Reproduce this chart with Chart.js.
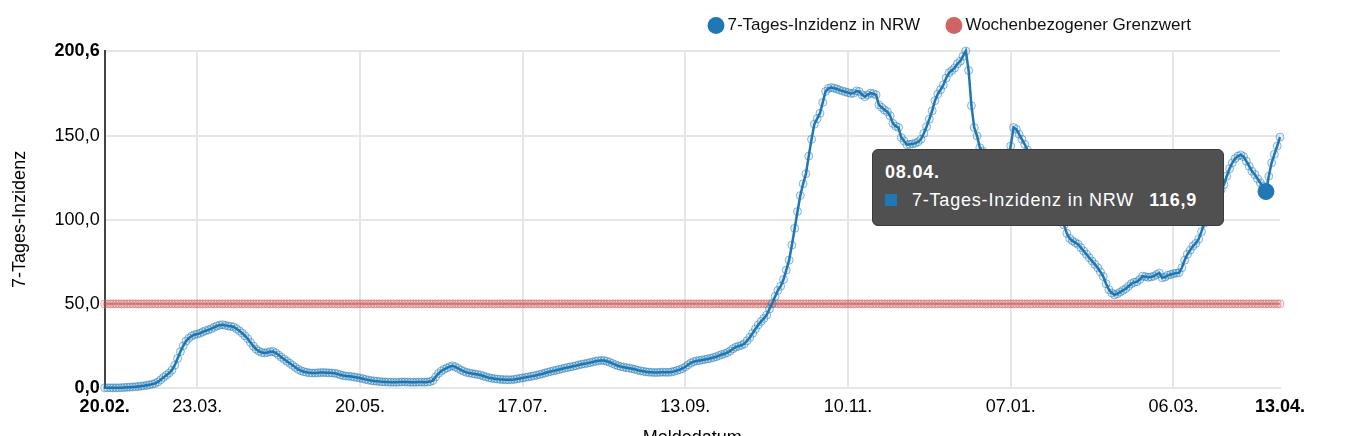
<!DOCTYPE html>
<html lang="de">
<head>
<meta charset="utf-8">
<title>7-Tages-Inzidenz in NRW</title>
<script src="https://cdn.jsdelivr.net/npm/chart.js@4.4.1/dist/chart.umd.min.js"></script>
<style>
  html, body { margin: 0; padding: 0; background: #fff; overflow: hidden; }
  #wrap { position: relative; width: 1353px; height: 453px; }
  #tip {
    position: absolute; opacity: 0; pointer-events: none;
    background: #505050; border: 1px solid #3a3a3a; border-radius: 6px;
    color: #fff; font-family: Arial, "Liberation Sans", Helvetica, sans-serif;
    font-size: 18px; letter-spacing: 0.8px; white-space: nowrap;
    padding: 11px 26px 14px 12px;
  }
  #tip .t { font-weight: bold; line-height: 22px; }
  #tip .b { line-height: 22px; margin-top: 6px; display: flex; align-items: center; }
  #tip .sq { width: 12px; height: 12px; background: #1f77b4; margin-right: 15px; }
  #tip b { margin-left: 15px; }
</style>
</head>
<body>
<div id="wrap">
  <canvas id="chart"></canvas>
  <div id="tip"></div>
</div>
<script>
const FONT = 'Arial, "Liberation Sans", Helvetica, sans-serif';
const BLUE = '#1f77b4';
const RED = '#d06464';

// 7-Tages-Inzidenz, daily from 19.02.2020 to 13.04.2021
const inzidenz = [
  0.0, 0.0, 0.0, 0.0, 0.0, 0.0, 0.1, 0.2, 0.3, 0.4, 0.5,
  0.6, 0.8, 1.0, 1.2, 1.5, 1.8, 2.2, 2.6, 3.5, 4.8,
  6.2, 7.5, 8.8, 10.5, 13.5, 17.5, 21.5, 25.0, 27.8, 29.5,
  30.8, 31.6, 32.0, 32.5, 33.3, 34.0, 34.5, 35.2, 36.0, 36.8,
  37.3, 37.6, 37.2, 36.8, 36.6, 36.2, 35.2, 34.0, 32.6, 31.0,
  29.2, 27.0, 24.8, 23.0, 21.8, 21.0, 20.8, 21.0, 21.5, 21.6,
  20.8, 19.5, 18.2, 17.0, 15.8, 14.6, 13.4, 12.2, 11.0, 10.2,
  9.6, 9.2, 8.9, 8.8, 8.8, 8.9, 9.1, 9.1, 9.0, 8.9,
  8.8, 8.7, 8.3, 7.7, 7.3, 7.0, 6.9, 6.7, 6.4, 6.1,
  5.8, 5.4, 5.0, 4.6, 4.3, 4.1, 3.9, 3.7, 3.6, 3.5,
  3.4, 3.3, 3.3, 3.3, 3.4, 3.5, 3.5, 3.4, 3.3, 3.3,
  3.3, 3.4, 3.4, 3.3, 3.4, 3.7, 4.3, 6.5, 8.5, 10.0,
  11.0, 11.8, 12.6, 13.1, 12.5, 11.6, 10.6, 9.8, 9.2, 8.8,
  8.5, 8.2, 7.9, 7.6, 7.0, 6.5, 6.0, 5.7, 5.4, 5.2,
  5.0, 4.9, 4.8, 4.8, 4.8, 5.0, 5.3, 5.6, 5.9, 6.2,
  6.5, 6.8, 7.1, 7.5, 7.9, 8.3, 8.8, 9.3, 9.7, 10.1,
  10.5, 10.9, 11.3, 11.7, 12.1, 12.4, 12.8, 13.2, 13.6, 14.0,
  14.3, 14.6, 15.0, 15.4, 15.8, 16.1, 16.3, 16.2, 15.8, 15.2,
  14.5, 13.8, 13.1, 12.6, 12.3, 12.0, 11.7, 11.4, 11.0, 10.5,
  10.1, 9.8, 9.5, 9.3, 9.2, 9.1, 9.1, 9.2, 9.3, 9.2,
  9.2, 9.4, 9.8, 10.3, 10.8, 11.5, 12.5, 13.7, 14.8, 15.6,
  16.0, 16.3, 16.6, 16.9, 17.2, 17.6, 18.0, 18.5, 19.2, 19.8,
  20.3, 21.0, 22.0, 23.3, 24.2, 24.8, 25.3, 26.2, 28.0, 30.0,
  32.5, 35.0, 37.5, 39.5, 41.3, 43.3, 47.0, 50.3, 54.4, 58.0,
  60.5, 64.5, 70.1, 76.0, 85.0, 95.0, 105.0, 114.5, 121.5, 127.5,
  138.0, 148.0, 157.0, 160.3, 163.5, 170.0, 176.5, 178.3, 178.8, 178.5,
  178.0, 177.3, 176.8, 176.3, 175.8, 175.3, 175.5, 176.8, 176.5, 174.5,
  173.4, 174.5, 175.5, 175.2, 174.5, 168.5, 167.0, 165.5, 164.5, 162.0,
  157.5, 155.8, 155.0, 149.0, 147.0, 144.8, 145.0, 145.3, 145.7, 146.5,
  148.0, 151.5, 155.5, 160.0, 165.0, 171.0, 175.0, 177.5, 180.4, 184.5,
  187.6, 189.0, 190.5, 193.0, 194.5, 197.5, 200.6, 189.0, 168.0, 155.0,
  150.0, 143.0, 141.0, 138.0, 135.0, 132.0, 129.0, 126.0, 123.0, 121.0,
  125.0, 134.0, 144.0, 155.0, 154.0, 151.0, 148.0, 145.0, 141.5, 138.0,
  134.5, 131.0, 128.0, 125.0, 121.5, 118.0, 114.5, 111.0, 107.5, 104.0,
  100.5, 97.0, 92.0, 89.0, 87.5, 86.5, 85.5, 83.5, 81.5, 79.5,
  77.5, 75.5, 73.5, 71.5, 69.0, 66.3, 62.0, 58.5, 56.5, 55.4,
  56.0, 57.0, 58.0, 59.0, 60.5, 62.0, 62.8, 63.2, 64.5, 66.5,
  66.2, 65.8, 66.0, 66.5, 67.5, 68.3, 65.5, 66.0, 67.0, 67.5,
  68.0, 68.3, 68.5, 71.5, 76.0, 79.5, 82.0, 84.5, 86.0, 88.5,
  93.0, 98.0, 102.0, 106.0, 109.0, 112.0, 115.0, 118.0, 121.0, 126.0,
  130.5, 134.0, 136.5, 138.0, 138.7, 137.7, 135.0, 132.0, 129.0, 127.0,
  124.5, 122.0, 120.0, 116.9, 126.0, 134.0, 139.0, 144.0, 149.3
];
const grenzwert = 50;

// x axis ticks (index into the daily series) and their labels
const xTickIdx = [0, 33, 91, 149, 207, 265, 323, 381, 419];
const xTickLabels = ['20.02.', '23.03.', '20.05.', '17.07.', '13.09.', '10.11.', '07.01.', '06.03.', '13.04.'];
const yTicks = [0, 50, 100, 150, 200.6];

const seriesNames = ['7-Tages-Inzidenz in NRW', 'Wochenbezogener Grenzwert'];
const hoverIdx = 414; // 08.04.

const pad2 = n => String(n).padStart(2, '0');
const dates = inzidenz.map((_, i) => {
  const d = new Date(2020, 1, 19 + i);
  return pad2(d.getDate()) + '.' + pad2(d.getMonth() + 1) + '.';
});
const fmt = v => v.toFixed(1).replace('.', ',');

// moves the legend to where the original had it
const legendPlace = {
  id: 'legendPlace',
  afterLayout(chart) {
    const lg = chart.legend;
    const w = lg.right - lg.left;
    lg.left = 682;
    lg.right = lg.left + w;
    lg.top -= 7;
    lg.bottom -= 7;
  }
};

function externalTooltip(context) {
  const {chart, tooltip} = context;
  const el = document.getElementById('tip');
  if (tooltip.opacity === 0 || !tooltip.dataPoints.length) {
    el.style.opacity = 0;
    return;
  }
  const dp = tooltip.dataPoints[0];
  el.innerHTML = '<div class="t">' + tooltip.title[0] + '</div>' +
    '<div class="b"><span class="sq"></span>' + dp.dataset.label + '<b>' + fmt(dp.raw) + '</b></div>';
  el.style.opacity = 1;
  const w = el.offsetWidth;
  el.style.left = (chart.canvas.offsetLeft + tooltip.caretX - 42 - w) + 'px';
  el.style.top = (chart.canvas.offsetTop + tooltip.caretY - 43) + 'px';
}

const isEnd = (i, n) => i === 0 || i === n - 1;

const chart = new Chart(document.getElementById('chart'), {
  type: 'line',
  data: {
    labels: dates,
    datasets: [{
      label: seriesNames[0],
      data: inzidenz,
      borderColor: BLUE,
      backgroundColor: BLUE,
      borderWidth: 2.5,
      pointRadius: 4,
      pointBorderWidth: 1,
      pointBorderColor: 'rgba(31,119,180,0.5)',
      pointBackgroundColor: 'rgba(31,119,180,0.1)',
      pointHoverRadius: 8,
      pointHoverBorderWidth: 1,
      pointHoverBackgroundColor: BLUE,
      pointHoverBorderColor: BLUE,
      tension: 0,
      clip: false
    }, {
      label: seriesNames[1],
      data: new Array(inzidenz.length).fill(grenzwert),
      borderColor: 'rgba(208,100,100,0.7)',
      backgroundColor: RED,
      borderWidth: 2,
      pointRadius: 4,
      pointBorderWidth: 1,
      pointBorderColor: 'rgba(208,100,100,0.5)',
      pointBackgroundColor: 'rgba(208,100,100,0.12)',
      tension: 0,
      clip: false
    }]
  },
  options: {
    responsive: true,
    maintainAspectRatio: false,
    animation: false,
    events: [],
    layout: { padding: { left: 0, right: 73, top: -7, bottom: 0 } },
    plugins: {
      legend: {
        position: 'top',
        align: 'start',
        labels: {
          font: { family: FONT, size: 17 },
          color: '#111',
          usePointStyle: true,
          boxWidth: 6,
          boxHeight: 12,
          padding: 31,
          generateLabels: (c) => c.data.datasets.map((ds, i) => ({
            text: ds.label,
            fillStyle: i === 0 ? BLUE : RED,
            strokeStyle: i === 0 ? BLUE : RED,
            fontColor: '#111',
            lineWidth: 0,
            pointStyle: 'circle',
            hidden: false,
            datasetIndex: i
          }))
        }
      },
      tooltip: {
        enabled: false,
        external: externalTooltip
      }
    },
    scales: {
      x: {
        type: 'category',
        afterBuildTicks: (scale) => { scale.ticks = xTickIdx.map(v => ({ value: v })); },
        ticks: {
          autoSkip: false,
          maxRotation: 0,
          padding: 8,
          color: '#000',
          font: (c) => ({ family: FONT, size: 18, weight: isEnd(c.index, xTickIdx.length) ? 'bold' : 'normal' }),
          callback: (value, i) => xTickLabels[i]
        },
        grid: {
          drawTicks: false,
          lineWidth: 2,
          color: (c) => c.index === xTickIdx.length - 1 ? 'rgba(0,0,0,0)' : '#e6e6e6'
        },
        border: { color: '#e6e6e6', width: 2 },
        title: {
          display: true,
          text: 'Meldedatum',
          color: '#000',
          font: { family: FONT, size: 18 },
          padding: { top: 2, bottom: 4 }
        }
      },
      y: {
        min: 0,
        max: 200.6,
        afterBuildTicks: (scale) => { scale.ticks = yTicks.map(v => ({ value: v })); },
        ticks: {
          padding: 5,
          color: '#000',
          font: (c) => ({ family: FONT, size: 18, weight: isEnd(c.index, yTicks.length) ? 'bold' : 'normal' }),
          callback: (value) => fmt(value)
        },
        grid: { drawTicks: false, lineWidth: 2, color: '#e6e6e6' },
        border: { color: '#444', width: 2 },
        title: {
          display: true,
          text: '7-Tages-Inzidenz',
          color: '#000',
          font: { family: FONT, size: 18 },
          padding: { top: 9, bottom: 19 }
        }
      }
    }
  },
  plugins: [legendPlace]
});

chart.setActiveElements([{ datasetIndex: 0, index: hoverIdx }]);
chart.tooltip.setActiveElements([{ datasetIndex: 0, index: hoverIdx }], { x: 0, y: 0 });
chart.update();
</script>
</body>
</html>
